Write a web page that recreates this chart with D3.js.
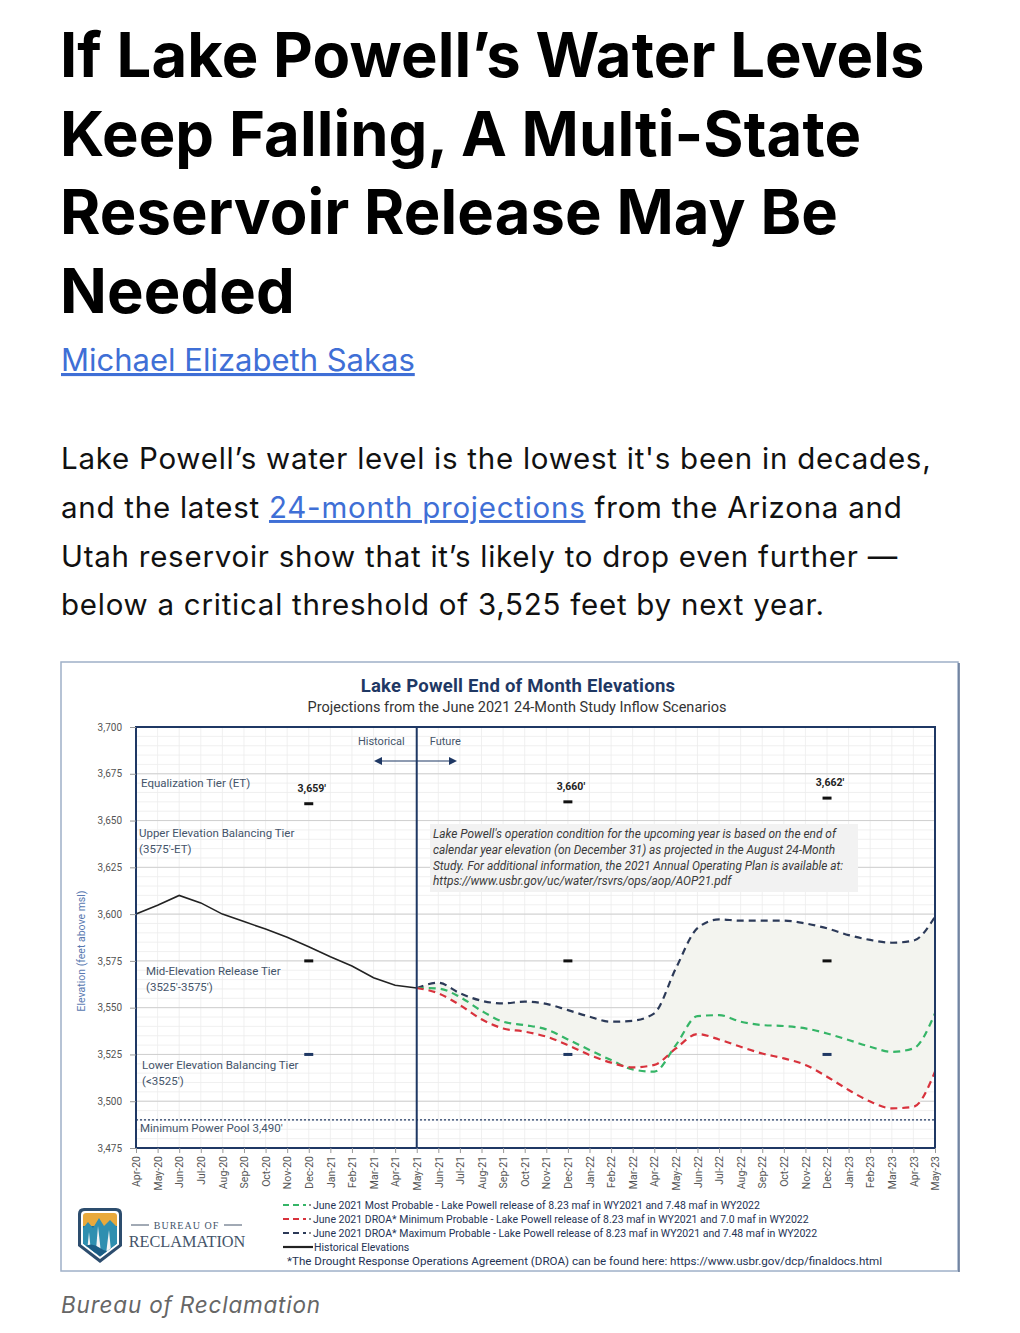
<!DOCTYPE html>
<html>
<head>
<meta charset="utf-8">
<script src="https://cdn.jsdelivr.net/npm/d3@7"></script>
<style>
  html, body { margin: 0; padding: 0; background: #fff; }
  svg { display: block; }
</style>
</head>
<body>
<svg id="page" width="1020" height="1333"></svg>
<script>
// ---------------- DATA ----------------
const months = ["Apr-20","May-20","Jun-20","Jul-20","Aug-20","Sep-20","Oct-20","Nov-20","Dec-20",
  "Jan-21","Feb-21","Mar-21","Apr-21","May-21","Jun-21","Jul-21","Aug-21","Sep-21","Oct-21","Nov-21","Dec-21",
  "Jan-22","Feb-22","Mar-22","Apr-22","May-22","Jun-22","Jul-22","Aug-22","Sep-22","Oct-22","Nov-22","Dec-22",
  "Jan-23","Feb-23","Mar-23","Apr-23","May-23"];
const histMonths = months.slice(0, 14);           // Apr-20 .. May-21
const projMonths = months.slice(13);              // May-21 .. May-23
const historical = [3600, 3604.7, 3610, 3606, 3600, 3596, 3592, 3587.6, 3582.6, 3577.2, 3572.3, 3566, 3562, 3560.5];
const mostProbable = [3560.5, 3560.2, 3555.7, 3548.3, 3542.5, 3540.7, 3538.4, 3533, 3527.4, 3522, 3517, 3515.8,
  3530, 3545.5, 3546, 3542.5, 3540.7, 3540.2, 3538.9, 3536.2, 3532.7, 3529.1, 3526.4, 3528.2, 3547];
const minProbable = [3560.5, 3557.7, 3551.4, 3543.8, 3538.9, 3537.2, 3534.5, 3530, 3524.7, 3520.6, 3518.1, 3519.4,
  3528.2, 3535.9, 3533, 3529.1, 3525.5, 3522.9, 3519.4, 3513.1, 3506, 3499.8, 3496.2, 3497, 3515.8];
const maxProbable = [3560.5, 3563.3, 3557.7, 3553.7, 3552.3, 3553.2, 3552, 3548.7, 3545.2, 3542.5, 3543, 3547,
  3571, 3592.5, 3597.2, 3596.5, 3596.5, 3596.5, 3595, 3592.4, 3588.8, 3586.2, 3584.7, 3585.8, 3598.6];
const yTicks = [3475, 3500, 3525, 3550, 3575, 3600, 3625, 3650, 3675, 3700];
// tier markers
const markerMonths = ["Dec-20", "Dec-21", "Dec-22"];
const markerTopValues = [3659, 3660, 3662];
const markerTopLabels = ["3,659'", "3,660'", "3,662'"];
const tierLines = [3575, 3525];
const minPowerPool = 3490;
const legendLabels = [
  "June 2021 Most Probable - Lake Powell release of 8.23 maf in WY2021 and 7.48 maf in WY2022",
  "June 2021 DROA* Minimum Probable - Lake Powell release of 8.23 maf in WY2021 and 7.0 maf in WY2022",
  "June 2021 DROA* Maximum Probable - Lake Powell release of 8.23 maf in WY2021 and 7.48 maf in WY2022",
  "Historical Elevations"
];
const legendColors = ["#35b567", "#d8323c", "#2c3a58", "#222"];
const tierLabels = [
  {v: 3667.9, lines: ["Equalization Tier (ET)"], dx: 5},
  {v: 3641.2, lines: ["Upper Elevation Balancing Tier", "(3575'-ET)"], dx: 3},
  {v: 3567.3, lines: ["Mid-Elevation Release Tier", "(3525'-3575')"], dx: 10},
  {v: 3517.1, lines: ["Lower Elevation Balancing Tier", "(<3525')"], dx: 6}
];
const noteLines = [
  "Lake Powell's operation condition for the upcoming year is based on the end of",
  "calendar year elevation (on December 31) as projected in the August 24-Month",
  "Study. For additional information, the 2021 Annual Operating Plan is available at:",
  "https://www.usbr.gov/uc/water/rsvrs/ops/aop/AOP21.pdf"
];

// ---------------- PAGE TEXT ----------------
const svg = d3.select("#page");
const headFont = "Inter, 'Noto Sans', sans-serif";
const headline = ["If Lake Powell\u2019s Water Levels", "Keep Falling, A Multi-State", "Reservoir Release May Be", "Needed"];
svg.append("g").selectAll("text").data(headline).join("text")
  .attr("x", 60).attr("y", (d, i) => 77 + i * 78.5)
  .attr("font-family", headFont).attr("font-weight", 700).attr("font-size", 61.5)
  .attr("letter-spacing", 0.1).attr("fill", "#000").text(d => d);

const linkColor = "#3f6fd6";
svg.append("text").attr("x", 61).attr("y", 371)
  .attr("font-family", headFont).attr("font-size", 31).attr("fill", linkColor)
  .attr("text-decoration", "underline").text("Michael Elizabeth Sakas");

const para = svg.append("g").attr("font-family", headFont).attr("font-size", 29.5)
  .attr("letter-spacing", 0.75).attr("fill", "#111");
para.append("text").attr("x", 61).attr("y", 469).text("Lake Powell\u2019s water level is the lowest it's been in decades,");
const p2 = para.append("text").attr("x", 61).attr("y", 518);
p2.append("tspan").text("and the latest ");
p2.append("tspan").attr("fill", linkColor).attr("text-decoration", "underline").text("24-month projections");
p2.append("tspan").text(" from the Arizona and");
para.append("text").attr("x", 61).attr("y", 567).text("Utah reservoir show that it\u2019s likely to drop even further \u2014");
para.append("text").attr("x", 61).attr("y", 615).text("below a critical threshold of 3,525 feet by next year.");

svg.append("text").attr("x", 61).attr("y", 1313)
  .attr("font-family", headFont).attr("font-style", "italic").attr("font-size", 22.5)
  .attr("letter-spacing", 0.8).attr("fill", "#666").text("Bureau of Reclamation");

// ---------------- CHART ----------------
const cf = "'Liberation Sans Narrow', 'Roboto', sans-serif";
const navy = "#1f3864";
const chart = svg.append("g").attr("font-family", cf);

// outer frame
chart.append("rect").attr("x", 61).attr("y", 662).attr("width", 897).attr("height", 609)
  .attr("fill", "#fff").attr("stroke", "#9fb0c8").attr("stroke-width", 1.5);
chart.append("line").attr("x1", 959).attr("x2", 959).attr("y1", 663).attr("y2", 1272)
  .attr("stroke", "#5d7090").attr("stroke-width", 1.5);

chart.append("text").attr("x", 518).attr("y", 692).attr("text-anchor", "middle")
  .attr("font-weight", 700).attr("font-size", 18.5).attr("letter-spacing", 0.25).attr("fill", navy)
  .text("Lake Powell End of Month Elevations");
chart.append("text").attr("x", 517).attr("y", 712).attr("text-anchor", "middle")
  .attr("font-size", 14.5).attr("fill", "#333")
  .text("Projections from the June 2021 24-Month Study Inflow Scenarios");

const x = d3.scalePoint().domain(months).range([136, 935]);
const y = d3.scaleLinear().domain([3475, 3700]).range([1148, 727]);
const [x0, x1] = x.range();
const [yb, yt] = y.range();

// minor grid
const minorY = d3.range(3475, 3701, 5);
chart.append("g").selectAll("line").data(minorY).join("line")
  .attr("x1", x0).attr("x2", x1).attr("y1", d => y(d)).attr("y2", d => y(d))
  .attr("stroke", "#ececec").attr("stroke-width", 0.8);
chart.append("g").selectAll("line").data(months).join("line")
  .attr("x1", d => x(d)).attr("x2", d => x(d)).attr("y1", yt).attr("y2", yb)
  .attr("stroke", "#ececec").attr("stroke-width", 0.8);
// major grid
chart.append("g").selectAll("line").data(yTicks).join("line")
  .attr("x1", x0).attr("x2", x1).attr("y1", d => y(d)).attr("y2", d => y(d))
  .attr("stroke", "#cfcfcf").attr("stroke-width", 1);

// annotation box
chart.append("rect").attr("x", 430).attr("y", 824).attr("width", 428).attr("height", 68)
  .attr("fill", "#f2f2f2");
chart.append("g").selectAll("text").data(noteLines).join("text")
  .attr("x", 433).attr("y", (d, i) => 838 + i * 15.8)
  .attr("font-style", "italic").attr("font-size", 11.9).attr("fill", "#3a3a3a").text(d => d);

// shaded band between max and min
const band = d3.area().x((d, i) => x(projMonths[i])).y0((d, i) => y(minProbable[i])).y1(d => y(d))
  .curve(d3.curveMonotoneX);
chart.append("path").datum(maxProbable).attr("d", band).attr("fill", "#f3f4ef");

// min power pool dotted line
chart.append("line").attr("x1", x0).attr("x2", x1).attr("y1", y(minPowerPool)).attr("y2", y(minPowerPool))
  .attr("stroke", navy).attr("stroke-width", 1.3).attr("stroke-dasharray", "2,2");

// tier label texts
const tl = chart.append("g").attr("fill", "#44546a").attr("font-size", 11.5);
tierLabels.forEach(t => {
  t.lines.forEach((ln, j) => {
    tl.append("text").attr("x", x0 + t.dx).attr("y", y(t.v) + j * 16).text(ln);
  });
});
tl.append("text").attr("x", x0 + 4).attr("y", y(minPowerPool) + 12).text("Minimum Power Pool  3,490'");

// markers
markerMonths.forEach((m, i) => {
  const cx = x(m);
  chart.append("rect").attr("x", cx - 4.5).attr("y", y(markerTopValues[i]) - 1.5).attr("width", 9).attr("height", 3).attr("fill", "#111");
  chart.append("text").attr("x", cx + 3).attr("y", y(markerTopValues[i]) - 12).attr("text-anchor", "middle")
    .attr("font-weight", 700).attr("font-size", 10.5).attr("fill", "#222").text(markerTopLabels[i]);
  chart.append("rect").attr("x", cx - 4.5).attr("y", y(tierLines[0]) - 1.5).attr("width", 9).attr("height", 3).attr("fill", "#111");
  chart.append("rect").attr("x", cx - 4.5).attr("y", y(tierLines[1]) - 1.5).attr("width", 9).attr("height", 3).attr("fill", navy);
});

// Historical / Future
const divX = x("May-21");
chart.append("text").attr("x", divX - 12).attr("y", 745).attr("text-anchor", "end").attr("font-size", 11).attr("fill", "#44546a").text("Historical");
chart.append("text").attr("x", divX + 13).attr("y", 745).attr("font-size", 11).attr("fill", "#44546a").text("Future");
chart.append("line").attr("x1", 380).attr("x2", 451).attr("y1", 761).attr("y2", 761).attr("stroke", navy).attr("stroke-width", 1.2);
chart.append("path").attr("d", "M374,761 L382,757 L382,765 Z").attr("fill", navy);
chart.append("path").attr("d", "M457,761 L449,757 L449,765 Z").attr("fill", navy);

// lines
const line = d3.line().x((d, i) => x(projMonths[i])).y(d => y(d)).curve(d3.curveMonotoneX);
const series = [
  {data: maxProbable, color: legendColors[2]},
  {data: mostProbable, color: legendColors[0]},
  {data: minProbable, color: legendColors[1]}
];
series.forEach(s => {
  chart.append("path").datum(s.data).attr("d", line).attr("fill", "none")
    .attr("stroke", s.color).attr("stroke-width", 2.2).attr("stroke-dasharray", "7,5");
});
const hline = d3.line().x((d, i) => x(histMonths[i])).y(d => y(d));
chart.append("path").datum(historical).attr("d", hline).attr("fill", "none")
  .attr("stroke", "#222").attr("stroke-width", 1.6);

// frame and divider
chart.append("rect").attr("x", x0).attr("y", yt).attr("width", x1 - x0).attr("height", yb - yt)
  .attr("fill", "none").attr("stroke", navy).attr("stroke-width", 2);
chart.append("line").attr("x1", divX).attr("x2", divX).attr("y1", yt).attr("y2", yb)
  .attr("stroke", navy).attr("stroke-width", 2);

// axes
const yAxis = d3.axisLeft(y).tickValues(yTicks).tickFormat(d3.format(",")).tickSize(6).tickPadding(8);
const gy = chart.append("g").attr("transform", `translate(${x0},0)`).call(yAxis);
gy.select(".domain").remove();
gy.selectAll("line").attr("stroke", "#999");
gy.selectAll("text").attr("font-family", cf).attr("font-size", 10).attr("fill", "#555");

const xAxis = d3.axisBottom(x).tickSize(5).tickPadding(3);
const gx = chart.append("g").attr("transform", `translate(0,${yb})`).call(xAxis);
gx.select(".domain").remove();
gx.selectAll("line").attr("stroke", "#999");
gx.selectAll("text").attr("font-family", cf).attr("font-size", 10.5).attr("fill", "#555")
  .attr("text-anchor", "end").attr("transform", "rotate(-90)").attr("dy", "0.35em").attr("x", -8).attr("y", 0);

chart.append("text").attr("transform", "translate(85,951) rotate(-90)").attr("text-anchor", "middle")
  .attr("font-size", 10.5).attr("fill", "#5878b0").text("Elevation (feet above msl)");

// legend
const lg = chart.append("g").attr("font-size", 10.5).attr("fill", "#253355");
legendLabels.forEach((lab, i) => {
  const ly = 1205 + i * 14;
  if (i < 3) {
    lg.append("line").attr("x1", 283).attr("x2", 306).attr("y1", ly).attr("y2", ly)
      .attr("stroke", legendColors[i]).attr("stroke-width", 2.2).attr("stroke-dasharray", "6,4");
    lg.append("circle").attr("cx", 310).attr("cy", ly).attr("r", 1).attr("fill", "#666");
    lg.append("text").attr("x", 313).attr("y", ly + 3.5).text(lab);
  } else {
    lg.append("line").attr("x1", 283).attr("x2", 313).attr("y1", ly).attr("y2", ly)
      .attr("stroke", legendColors[i]).attr("stroke-width", 2.2);
    lg.append("text").attr("x", 314).attr("y", ly + 3.5).text(lab);
  }
});
lg.append("text").attr("x", 287).attr("y", 1264.5).attr("font-size", 11.6)
  .text("*The Drought Response Operations Agreement (DROA) can be found here: https://www.usbr.gov/dcp/finaldocs.html");

// logo
const logo = chart.append("g");
const shield = "M84,1208 L116,1208 Q122,1208 122,1214 L122,1246 L100,1263 L78,1246 L78,1214 Q78,1208 84,1208 Z";
logo.append("path").attr("d", shield).attr("fill", "#2d4d6e");
const inner = "M85,1211 L115,1211 Q119,1211 119,1215 L119,1244.5 L100,1259 L81,1244.5 L81,1215 Q81,1211 85,1211 Z";
logo.append("path").attr("d", inner).attr("fill", "#fff");
const innerFill = "M86,1213 L114,1213 Q117,1213 117,1216 L117,1243.5 L100,1256.5 L83,1243.5 L83,1216 Q83,1213 86,1213 Z";
const clip = logo.append("clipPath").attr("id", "shieldclip");
clip.append("path").attr("d", innerFill);
const lc = logo.append("g").attr("clip-path", "url(#shieldclip)");
lc.append("rect").attr("x", 80).attr("y", 1210).attr("width", 40).attr("height", 16).attr("fill", "#e9a93b");
lc.append("rect").attr("x", 80).attr("y", 1226).attr("width", 40).attr("height", 35).attr("fill", "#1b6f98");
lc.append("path").attr("d", "M80,1232 L88,1222 L93,1228 L99,1218 L104,1226 L110,1220 L120,1230 L120,1262 L80,1262 Z").attr("fill", "#2f8fb0");
lc.append("path").attr("d", "M86,1262 L89,1232 L92,1262 Z M95,1262 L98,1226 L102,1262 Z M105,1262 L109,1230 L112,1262 Z").attr("fill", "#f4f4f4");
lc.append("path").attr("d", "M80,1250 Q90,1240 100,1248 T120,1244 L120,1262 L80,1262 Z").attr("fill", "#1b5d86");
const lt = logo.append("g").attr("font-family", "'Liberation Serif', serif").attr("fill", "#44546a");
lt.append("line").attr("x1", 131).attr("x2", 149).attr("y1", 1225).attr("y2", 1225).attr("stroke", "#44546a").attr("stroke-width", 1);
lt.append("line").attr("x1", 224).attr("x2", 242).attr("y1", 1225).attr("y2", 1225).attr("stroke", "#44546a").attr("stroke-width", 1);
lt.append("text").attr("x", 186.5).attr("y", 1229).attr("text-anchor", "middle").attr("font-size", 10).attr("letter-spacing", 1).text("BUREAU OF");
lt.append("text").attr("x", 187).attr("y", 1247).attr("text-anchor", "middle").attr("font-size", 16.3).text("RECLAMATION");
</script>
</body>
</html>
